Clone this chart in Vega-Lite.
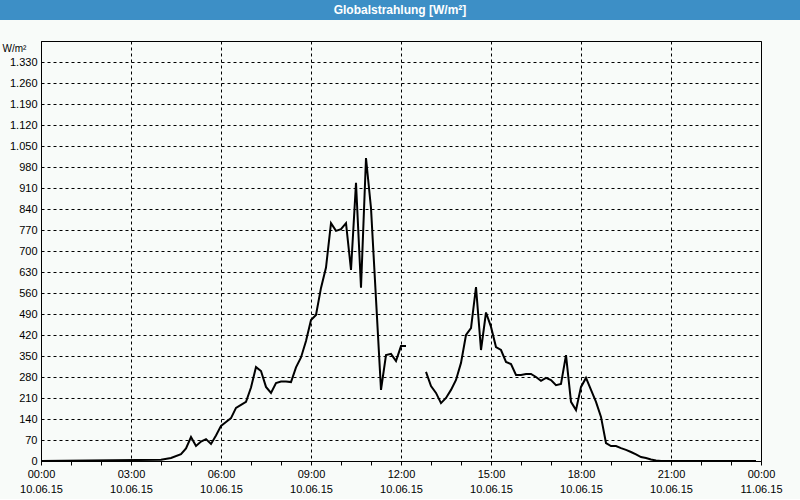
{
  "$schema": "https://vega.github.io/schema/vega-lite/v6.json",
  "background": "#f8fbf9",
  "padding": {"left": 0, "top": 0, "right": 0, "bottom": 4},
  "spacing": 20,
  "config": {
    "view": {"stroke": null},
    "font": "Liberation Sans",
    "axis": {
      "labelFont": "Liberation Sans",
      "labelFontSize": 11,
      "labelColor": "black",
      "titleFont": "Liberation Sans",
      "titleColor": "black",
      "domainColor": "black",
      "tickColor": "black",
      "gridColor": "black",
      "gridDash": [3, 3],
      "gridOpacity": 1
    }
  },
  "vconcat": [
    {
      "width": 800,
      "height": 20,
      "view": {"fill": "#3d8fc6", "stroke": null},
      "data": {"values": [{"title": "Globalstrahlung [W/m²]"}]},
      "mark": {"type": "text", "color": "white", "fontWeight": "bold", "fontSize": 12, "font": "Liberation Sans", "baseline": "middle", "align": "center"},
      "encoding": {"text": {"field": "title"}}
    },
    {
      "spacing": 0,
      "hconcat": [
        {
          "width": 1,
          "height": 1,
          "data": {"values": []},
          "mark": {"type": "point", "opacity": 0},
          "encoding": {}
        },
        {
          "width": 720,
          "height": 420,
          "view": {"stroke": "black", "fill": "#f8fbf9"},
          "data": {"values": [
            {"t": "2015-06-10T00:00:00Z", "v": 0, "seg": "a"},
            {"t": "2015-06-10T04:00:00Z", "v": 4, "seg": "a"},
            {"t": "2015-06-10T04:20:00Z", "v": 10, "seg": "a"},
            {"t": "2015-06-10T04:40:00Z", "v": 23, "seg": "a"},
            {"t": "2015-06-10T04:50:00Z", "v": 42, "seg": "a"},
            {"t": "2015-06-10T05:00:00Z", "v": 80, "seg": "a"},
            {"t": "2015-06-10T05:10:00Z", "v": 50, "seg": "a"},
            {"t": "2015-06-10T05:20:00Z", "v": 65, "seg": "a"},
            {"t": "2015-06-10T05:30:00Z", "v": 73, "seg": "a"},
            {"t": "2015-06-10T05:40:00Z", "v": 57, "seg": "a"},
            {"t": "2015-06-10T05:50:00Z", "v": 85, "seg": "a"},
            {"t": "2015-06-10T06:00:00Z", "v": 117, "seg": "a"},
            {"t": "2015-06-10T06:10:00Z", "v": 130, "seg": "a"},
            {"t": "2015-06-10T06:20:00Z", "v": 143, "seg": "a"},
            {"t": "2015-06-10T06:30:00Z", "v": 177, "seg": "a"},
            {"t": "2015-06-10T06:40:00Z", "v": 187, "seg": "a"},
            {"t": "2015-06-10T06:50:00Z", "v": 197, "seg": "a"},
            {"t": "2015-06-10T07:00:00Z", "v": 245, "seg": "a"},
            {"t": "2015-06-10T07:10:00Z", "v": 313, "seg": "a"},
            {"t": "2015-06-10T07:20:00Z", "v": 300, "seg": "a"},
            {"t": "2015-06-10T07:30:00Z", "v": 247, "seg": "a"},
            {"t": "2015-06-10T07:40:00Z", "v": 227, "seg": "a"},
            {"t": "2015-06-10T07:50:00Z", "v": 260, "seg": "a"},
            {"t": "2015-06-10T08:00:00Z", "v": 265, "seg": "a"},
            {"t": "2015-06-10T08:10:00Z", "v": 265, "seg": "a"},
            {"t": "2015-06-10T08:20:00Z", "v": 263, "seg": "a"},
            {"t": "2015-06-10T08:30:00Z", "v": 312, "seg": "a"},
            {"t": "2015-06-10T08:40:00Z", "v": 345, "seg": "a"},
            {"t": "2015-06-10T08:50:00Z", "v": 400, "seg": "a"},
            {"t": "2015-06-10T09:00:00Z", "v": 470, "seg": "a"},
            {"t": "2015-06-10T09:10:00Z", "v": 487, "seg": "a"},
            {"t": "2015-06-10T09:20:00Z", "v": 577, "seg": "a"},
            {"t": "2015-06-10T09:30:00Z", "v": 645, "seg": "a"},
            {"t": "2015-06-10T09:40:00Z", "v": 793, "seg": "a"},
            {"t": "2015-06-10T09:50:00Z", "v": 767, "seg": "a"},
            {"t": "2015-06-10T10:00:00Z", "v": 773, "seg": "a"},
            {"t": "2015-06-10T10:10:00Z", "v": 793, "seg": "a"},
            {"t": "2015-06-10T10:20:00Z", "v": 637, "seg": "a"},
            {"t": "2015-06-10T10:30:00Z", "v": 927, "seg": "a"},
            {"t": "2015-06-10T10:40:00Z", "v": 578, "seg": "a"},
            {"t": "2015-06-10T10:50:00Z", "v": 1010, "seg": "a"},
            {"t": "2015-06-10T11:00:00Z", "v": 843, "seg": "a"},
            {"t": "2015-06-10T11:20:00Z", "v": 237, "seg": "a"},
            {"t": "2015-06-10T11:30:00Z", "v": 353, "seg": "a"},
            {"t": "2015-06-10T11:40:00Z", "v": 357, "seg": "a"},
            {"t": "2015-06-10T11:50:00Z", "v": 333, "seg": "a"},
            {"t": "2015-06-10T12:00:00Z", "v": 383, "seg": "a"},
            {"t": "2015-06-10T12:10:00Z", "v": 383, "seg": "a"},
            {"t": "2015-06-10T12:50:00Z", "v": 297, "seg": "b"},
            {"t": "2015-06-10T13:00:00Z", "v": 250, "seg": "b"},
            {"t": "2015-06-10T13:10:00Z", "v": 227, "seg": "b"},
            {"t": "2015-06-10T13:20:00Z", "v": 193, "seg": "b"},
            {"t": "2015-06-10T13:30:00Z", "v": 210, "seg": "b"},
            {"t": "2015-06-10T13:40:00Z", "v": 237, "seg": "b"},
            {"t": "2015-06-10T13:50:00Z", "v": 270, "seg": "b"},
            {"t": "2015-06-10T14:00:00Z", "v": 327, "seg": "b"},
            {"t": "2015-06-10T14:10:00Z", "v": 420, "seg": "b"},
            {"t": "2015-06-10T14:20:00Z", "v": 443, "seg": "b"},
            {"t": "2015-06-10T14:30:00Z", "v": 580, "seg": "b"},
            {"t": "2015-06-10T14:40:00Z", "v": 370, "seg": "b"},
            {"t": "2015-06-10T14:50:00Z", "v": 495, "seg": "b"},
            {"t": "2015-06-10T15:00:00Z", "v": 447, "seg": "b"},
            {"t": "2015-06-10T15:10:00Z", "v": 380, "seg": "b"},
            {"t": "2015-06-10T15:20:00Z", "v": 370, "seg": "b"},
            {"t": "2015-06-10T15:30:00Z", "v": 330, "seg": "b"},
            {"t": "2015-06-10T15:40:00Z", "v": 323, "seg": "b"},
            {"t": "2015-06-10T15:50:00Z", "v": 287, "seg": "b"},
            {"t": "2015-06-10T16:00:00Z", "v": 287, "seg": "b"},
            {"t": "2015-06-10T16:10:00Z", "v": 290, "seg": "b"},
            {"t": "2015-06-10T16:20:00Z", "v": 290, "seg": "b"},
            {"t": "2015-06-10T16:30:00Z", "v": 280, "seg": "b"},
            {"t": "2015-06-10T16:40:00Z", "v": 267, "seg": "b"},
            {"t": "2015-06-10T16:50:00Z", "v": 277, "seg": "b"},
            {"t": "2015-06-10T17:00:00Z", "v": 270, "seg": "b"},
            {"t": "2015-06-10T17:10:00Z", "v": 253, "seg": "b"},
            {"t": "2015-06-10T17:20:00Z", "v": 257, "seg": "b"},
            {"t": "2015-06-10T17:30:00Z", "v": 353, "seg": "b"},
            {"t": "2015-06-10T17:40:00Z", "v": 197, "seg": "b"},
            {"t": "2015-06-10T17:50:00Z", "v": 170, "seg": "b"},
            {"t": "2015-06-10T18:00:00Z", "v": 247, "seg": "b"},
            {"t": "2015-06-10T18:10:00Z", "v": 277, "seg": "b"},
            {"t": "2015-06-10T18:20:00Z", "v": 237, "seg": "b"},
            {"t": "2015-06-10T18:30:00Z", "v": 197, "seg": "b"},
            {"t": "2015-06-10T18:40:00Z", "v": 147, "seg": "b"},
            {"t": "2015-06-10T18:50:00Z", "v": 60, "seg": "b"},
            {"t": "2015-06-10T19:00:00Z", "v": 50, "seg": "b"},
            {"t": "2015-06-10T19:10:00Z", "v": 50, "seg": "b"},
            {"t": "2015-06-10T19:20:00Z", "v": 43, "seg": "b"},
            {"t": "2015-06-10T19:30:00Z", "v": 37, "seg": "b"},
            {"t": "2015-06-10T19:40:00Z", "v": 30, "seg": "b"},
            {"t": "2015-06-10T19:50:00Z", "v": 22, "seg": "b"},
            {"t": "2015-06-10T20:00:00Z", "v": 13, "seg": "b"},
            {"t": "2015-06-10T20:10:00Z", "v": 10, "seg": "b"},
            {"t": "2015-06-10T20:20:00Z", "v": 5, "seg": "b"},
            {"t": "2015-06-10T20:30:00Z", "v": 2, "seg": "b"},
            {"t": "2015-06-10T20:40:00Z", "v": 0, "seg": "b"},
            {"t": "2015-06-10T23:50:00Z", "v": 0, "seg": "b"}
          ]},
          "mark": {"type": "line", "color": "black", "strokeWidth": 2},
          "encoding": {
            "x": {
              "field": "t",
              "type": "temporal",
              "scale": {"type": "utc", "domain": [
                {"year": 2015, "month": 6, "date": 10, "hours": 0, "utc": true},
                {"year": 2015, "month": 6, "date": 11, "hours": 0, "utc": true}
              ]},
              "axis": {
                "title": null,
                "values": [1433894400000, 1433898000000, 1433901600000, 1433905200000, 1433908800000, 1433912400000, 1433916000000, 1433919600000, 1433923200000, 1433926800000, 1433930400000, 1433934000000, 1433937600000, 1433941200000, 1433944800000, 1433948400000, 1433952000000, 1433955600000, 1433959200000, 1433962800000, 1433966400000, 1433970000000, 1433973600000, 1433977200000, 1433980800000],
                "tickSize": 4,
                "labelPadding": 3,
                "labelBaseline": "top",
                "labelLineHeight": 15,
                "labelFlush": false,
                "labelOverlap": false,
                "labelBound": false,
                "labelExpr": "utchours(datum.value) % 3 == 0 ? [utcFormat(datum.value, '%H:%M'), utcFormat(datum.value, '%d.%m.%y')] : ''",
                "gridOpacity": {"condition": {"test": "utchours(datum.value) % 3 == 0", "value": 1}, "value": 0}
              }
            },
            "y": {
              "field": "v",
              "type": "quantitative",
              "scale": {"domain": [0, 1400], "nice": false},
              "axis": {
                "values": [0, 70, 140, 210, 280, 350, 420, 490, 560, 630, 700, 770, 840, 910, 980, 1050, 1120, 1190, 1260, 1330],
                "title": "W/m²",
                "titleAngle": 0,
                "titleAlign": "left",
                "titleBaseline": "middle",
                "titleX": -39,
                "titleY": 7,
                "titleFontSize": 10,
                "titleFontWeight": "normal",
                "ticks": false,
                "labelPadding": 4,
                "labelExpr": "replace(format(datum.value, ','), ',', '.')"
              }
            },
            "detail": {"field": "seg"}
          }
        }
      ]
    }
  ]
}
